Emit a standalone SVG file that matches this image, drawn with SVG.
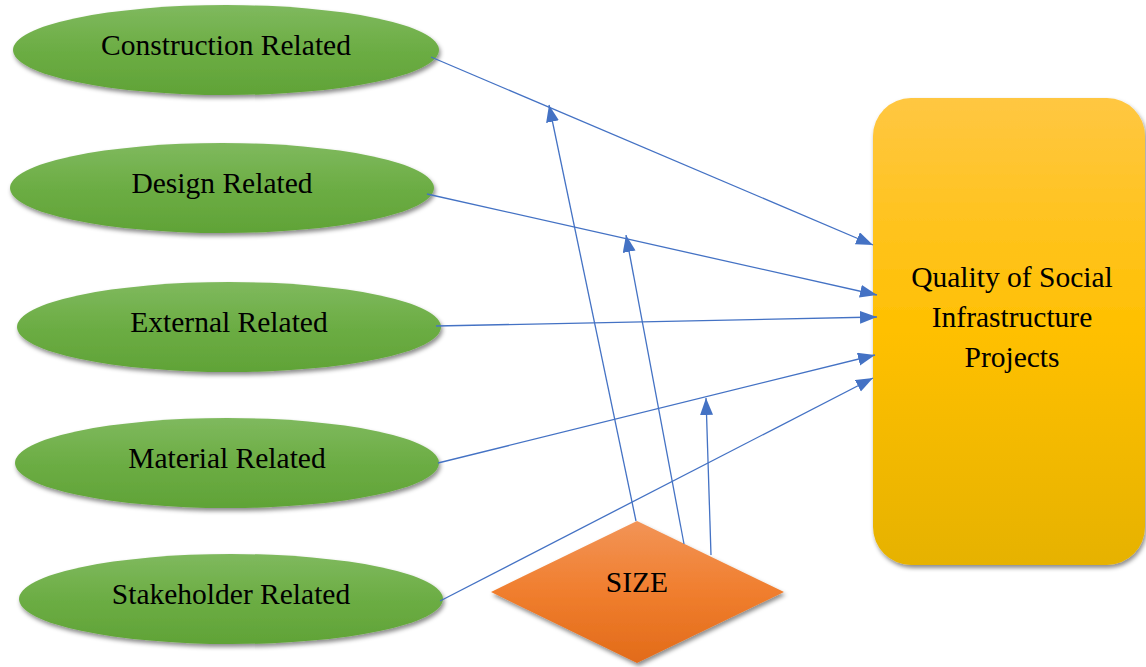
<svg xmlns="http://www.w3.org/2000/svg" width="1146" height="667" viewBox="0 0 1146 667">
<style>
.lbl{font-family:"Liberation Serif","Times New Roman",serif;font-size:29.5px;fill:#000;text-anchor:middle}
.ell{fill:url(#gGreen);filter:url(#sh)}
.conn{stroke:#4472C4;stroke-width:1.3;fill:none;marker-end:url(#arr)}
</style>
<defs>
<linearGradient id="gGreen" x1="0" y1="0" x2="0" y2="1">
<stop offset="0" stop-color="#7fb95e"/><stop offset="0.5" stop-color="#6cad44"/><stop offset="1" stop-color="#60a337"/>
</linearGradient>
<linearGradient id="gOrange" x1="0" y1="0" x2="0" y2="1">
<stop offset="0" stop-color="#f29457"/><stop offset="0.5" stop-color="#f07e2e"/><stop offset="1" stop-color="#e26b19"/>
</linearGradient>
<linearGradient id="gGold" x1="0" y1="0" x2="0" y2="1">
<stop offset="0" stop-color="#ffc742"/><stop offset="0.5" stop-color="#ffc000"/><stop offset="1" stop-color="#e6b200"/>
</linearGradient>
<filter id="sh" x="-10%" y="-20%" width="120%" height="150%">
<feDropShadow dx="1.5" dy="3" stdDeviation="2" flood-color="#000" flood-opacity="0.45"/>
</filter>
<marker id="arr" markerUnits="userSpaceOnUse" markerWidth="18" markerHeight="14" refX="17" refY="6.5" orient="auto">
<path d="M0,0 L17,6.5 L0,13 z" fill="#4472C4"/>
</marker>
</defs>

<g id="node-construction"><ellipse class="ell" cx="226" cy="50" rx="213" ry="45"/><text class="lbl" x="226" y="55">Construction Related</text></g>
<g id="node-design"><ellipse class="ell" cx="222" cy="188" rx="212" ry="45"/><text class="lbl" x="222" y="193">Design Related</text></g>
<g id="node-external"><ellipse class="ell" cx="229" cy="327" rx="212" ry="45"/><text class="lbl" x="229" y="332">External Related</text></g>
<g id="node-material"><ellipse class="ell" cx="227" cy="463" rx="212" ry="45"/><text class="lbl" x="227" y="468">Material Related</text></g>
<g id="node-stakeholder"><ellipse class="ell" cx="231" cy="599" rx="212" ry="45"/><text class="lbl" x="231" y="604">Stakeholder Related</text></g>

<g id="node-quality">
<rect x="873" y="98" width="272" height="467" rx="38" ry="38" fill="url(#gGold)" filter="url(#sh)"/>
<text class="lbl" x="1012" y="287">Quality of Social</text>
<text class="lbl" x="1012" y="327">Infrastructure</text>
<text class="lbl" x="1012" y="367">Projects</text>
</g>

<g id="node-size">
<polygon points="637,521 784,592 637,663 491,592" fill="url(#gOrange)" filter="url(#sh)"/>
<text class="lbl" x="637" y="592">SIZE</text>
</g>

<g id="connectors">
<line class="conn" x1="431" y1="57" x2="873" y2="245"/>
<line class="conn" x1="427" y1="194" x2="877" y2="295"/>
<line class="conn" x1="436" y1="326" x2="877" y2="317"/>
<line class="conn" x1="438" y1="463" x2="875" y2="355"/>
<line class="conn" x1="440" y1="601" x2="873" y2="378"/>
<line class="conn" x1="636" y1="521" x2="549" y2="105"/>
<line class="conn" x1="684" y1="544" x2="626" y2="235"/>
<line class="conn" x1="711" y1="555" x2="706" y2="398"/>
</g>
</svg>
